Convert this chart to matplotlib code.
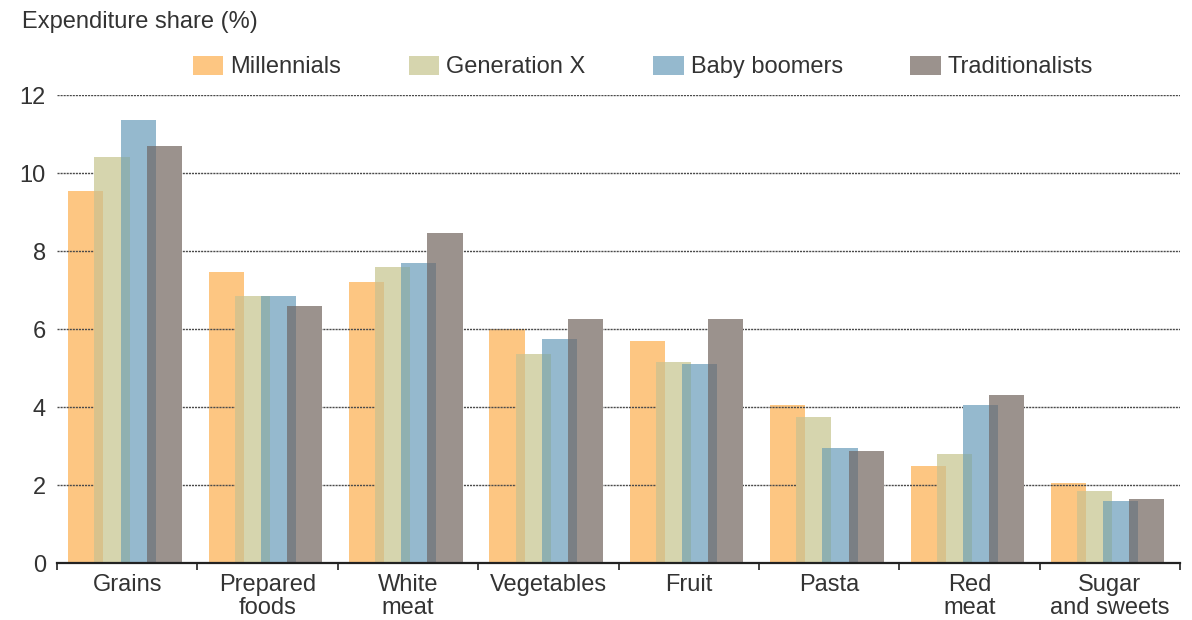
"""
Food expenditure share by generation, grouped bar chart.
"""

import numpy as np
import matplotlib
matplotlib.use("Agg")
import matplotlib.pyplot as plt

plt.rcParams["font.family"] = ["Liberation Sans", "DejaVu Sans"]

categories = ["Grains", "Prepared\nfoods", "White\nmeat", "Vegetables", "Fruit",
              "Pasta", "Red\nmeat", "Sugar\nand sweets"]
generations = ["Millennials", "Generation X", "Baby boomers", "Traditionalists"]

millennials = [9.55, 7.45, 7.2, 6.0, 5.7, 4.05, 2.5, 2.05]
generation_x = [10.4, 6.85, 7.6, 5.35, 5.15, 3.75, 2.8, 1.85]
baby_boomers = [11.35, 6.85, 7.7, 5.75, 5.1, 2.95, 4.05, 1.6]
traditionalists = [10.7, 6.6, 8.45, 6.25, 6.25, 2.88, 4.32, 1.65]

yticks = [0, 2, 4, 6, 8, 10, 12]

series = [millennials, generation_x, baby_boomers, traditionalists]
colors = ["#fdc682", "#d6d5ae", "#95b9ce", "#9b928d"]
# darker tone where two neighbouring bars overlap
overlap_colors = ["#d8c28c", "#8fb0b0", "#7a7f84"]

width = 0.25
step = 0.186
text_col = "#333333"
fs = 17

fig = plt.figure(figsize=(11.92, 6.2), dpi=100)
ax = fig.add_axes([57 / 1192, 1 - 563 / 620, (1180 - 57) / 1192, (563 - 95) / 620])

x = np.arange(len(categories)) + 0.5
offsets = (np.arange(4) - 1.5) * step - 0.015

for i, vals in enumerate(series):
    ax.bar(x + offsets[i], vals, width=width, color=colors[i],
           label=generations[i], zorder=2 + i)

# overlapping slices of neighbouring bars
ov_w = width - step
for i in range(3):
    lo = np.minimum(series[i], series[i + 1])
    centre = x + (offsets[i] + offsets[i + 1]) / 2
    ax.bar(centre, lo, width=ov_w, color=overlap_colors[i], zorder=10)

ax.set_xlim(0, len(categories))
ax.set_ylim(0, 12)
ax.set_yticks(yticks)
ax.yaxis.grid(True, color="#4a4a4a", linewidth=1.0, linestyle=(0, (1.5, 0.7)), zorder=20)
ax.set_axisbelow(False)

ax.set_xticks(x)
ax.set_xticklabels(categories, fontsize=fs, color=text_col, linespacing=1.08)
ax.set_xticks(np.arange(len(categories) + 1), minor=True)
ax.tick_params(axis="x", which="major", length=0, pad=8)
ax.tick_params(axis="x", which="minor", length=5, width=1.2, direction="out", color="#222222")
ax.tick_params(axis="y", length=0, labelsize=fs, labelcolor=text_col, pad=8)

for s in ["top", "right", "left"]:
    ax.spines[s].set_visible(False)
ax.spines["bottom"].set_color("#222222")
ax.spines["bottom"].set_linewidth(1.6)
ax.spines["bottom"].set_zorder(30)

fig.text(22 / 1192, 1 - 22 / 620, "Expenditure share (%)", fontsize=fs,
         color=text_col, va="center", ha="left")

fig.legend(loc="center", bbox_to_anchor=(643 / 1192, 1 - 67 / 620), ncol=4,
           frameon=False, fontsize=fs, handlelength=1.3, handleheight=0.85,
           handletextpad=0.3, columnspacing=2.85, labelcolor=text_col)

plt.savefig("out.png", dpi=100)
